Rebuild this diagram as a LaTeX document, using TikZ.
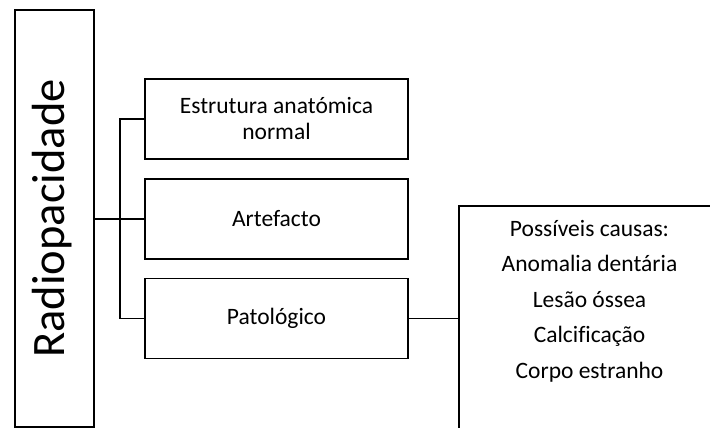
\documentclass[tikz,border=0pt]{standalone}
\usepackage{fontspec}
\setmainfont{Carlito}[Ligatures=NoCommon]
\begin{document}
\begin{tikzpicture}[x=1pt,y=-1pt,
  boxline/.style={draw=black, line width=1.4pt},
  catbox/.style={boxline, rectangle, inner sep=0pt, minimum width=263pt, minimum height=80pt,
    align=center, font=\fontsize{23.5}{26}\selectfont},
  conn/.style={draw=black, line width=1.2pt}]
\useasboundingbox (0,0) rectangle (710,428);
\clip (0,0) rectangle (710,428);
% root box
\node[boxline, rectangle, minimum width=79pt, minimum height=417pt, inner sep=0pt] (root) at (54.5,218.5) {};
\node[rotate=90, inner sep=0pt, font=\fontsize{46.5}{50}\selectfont] (rootlabel) at (52,218.5) {Radiopacidade};
% category boxes
\node[catbox] (b1) at (276.5,119) {Estrutura anatómica\\normal};
\node[catbox] (b2) at (276.5,219) {Artefacto};
\node[catbox] (b3) at (276.5,318.5) {Patológico};
% causes box (extends beyond the picture)
\node[boxline, rectangle, inner sep=0pt, minimum width=261pt, minimum height=260pt] (causes) at (589.5,336) {};
\node[inner sep=0pt, anchor=base, align=center, font=\fontsize{23.5}{35.5}\selectfont] (causestext) at (589.5,378)
  {Possíveis causas:\\Anomalia dentária\\Lesão óssea\\Calcificação\\Corpo estranho};
% connectors
\coordinate (j) at (120,219);
\draw[conn] (root.east |- j) -- (b2.west);
\draw[conn] (b1.west) -| (j) |- (b3.west);
\draw[conn] (b3.east) -- (b3.east -| causes.west);
\end{tikzpicture}
\end{document}
